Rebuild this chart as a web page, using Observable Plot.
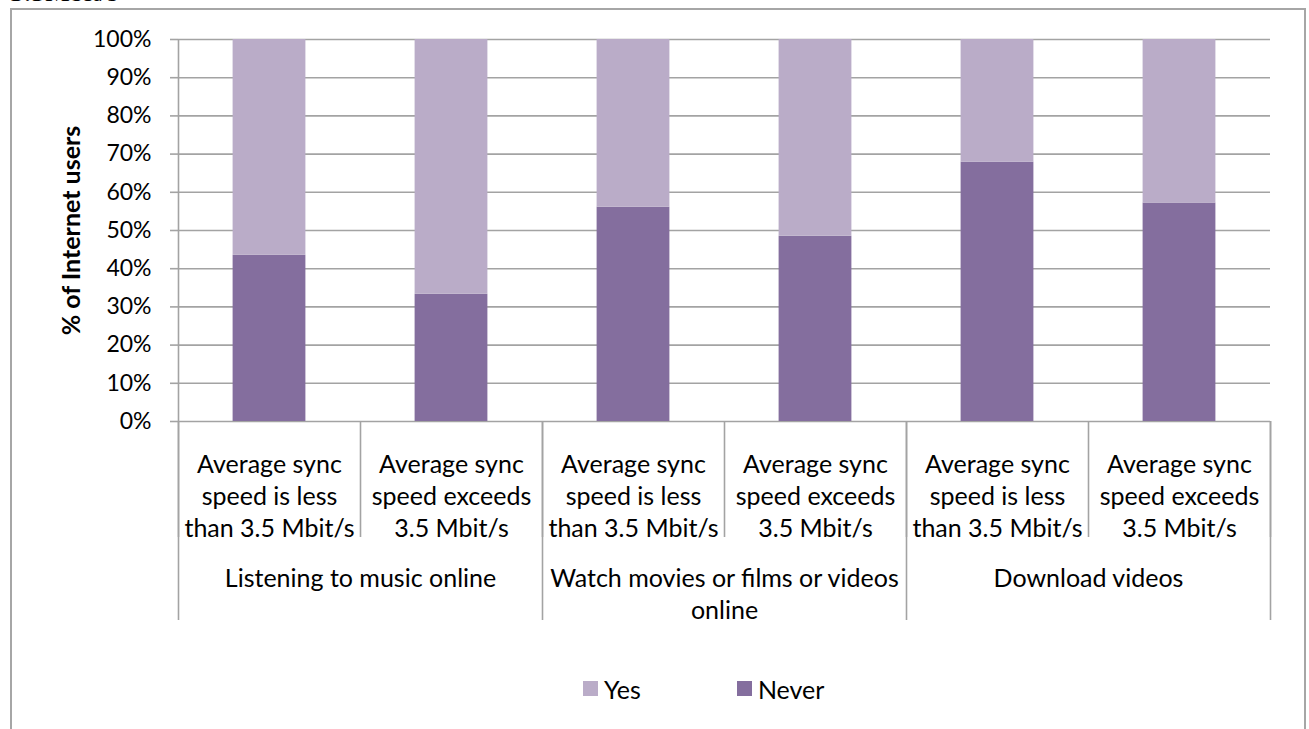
<!DOCTYPE html>
<html>
<head>
<meta charset="utf-8">
<script src="https://cdn.jsdelivr.net/npm/d3@7"></script>
<script src="https://cdn.jsdelivr.net/npm/@observablehq/plot@0.6"></script>
<style>
  html, body { margin: 0; padding: 0; background: #fff; width: 1309px; height: 729px; overflow: hidden; }
  #wrap { position: relative; width: 1309px; height: 729px; }
  #doc { position: absolute; left: 10px; top: -24px; font-family: "Liberation Serif", serif; font-size: 28px; color: #000; }
  #frame { position: absolute; left: 10px; top: 8px; width: 1296px; height: 800px; box-sizing: border-box; border: 2px solid #a6a6a6; }
  #chart { position: absolute; left: 0; top: 0; }
  #legend { position: absolute; left: 583px; top: 672px; }
  #legend .lg-swatch { margin-right: 96px !important; }
  #legend .lg-swatch > svg { margin-right: 6px !important; }
</style>
</head>
<body>
<div id="wrap">
  <div id="doc">3.5Mbit/s</div>
  <div id="frame"></div>
  <div id="chart"></div>
  <div id="legend"></div>
</div>
<script>
// ---- data ----
const categories = [
  "Average sync\nspeed is less\nthan 3.5 Mbit/s",
  "Average sync\nspeed exceeds\n3.5 Mbit/s",
  "Average sync\nspeed is less\nthan 3.5 Mbit/s",
  "Average sync\nspeed exceeds\n3.5 Mbit/s",
  "Average sync\nspeed is less\nthan 3.5 Mbit/s",
  "Average sync\nspeed exceeds\n3.5 Mbit/s"
];
const groups = [
  "Listening to music online",
  "Watch movies or films or videos\nonline",
  "Download videos"
];
const groupStart = [0, 2, 4];
const groupSize = [2, 2, 2];
const seriesNames = ["Yes", "Never"];
const neverPct = [43.5, 33.3, 56.1, 48.5, 67.9, 57.2];
const yesPct = [56.5, 66.7, 43.9, 51.5, 32.1, 42.8];
const yTicks = [0, 10, 20, 30, 40, 50, 60, 70, 80, 90, 100];

// ---- tables built from the arrays ----
const barData = [];
categories.forEach((c, i) => {
  barData.push({i, series: "Never", value: neverPct[i]});
  barData.push({i, series: "Yes", value: yesPct[i]});
});
const catData = categories.map((c, i) => ({i, label: c}));
const groupData = groups.map((g, k) => ({label: g, start: groupStart[k], size: groupSize[k]}));
const innerSeps = d3.range(categories.length + 1);
const outerSeps = [0, ...groupData.map(g => g.start + g.size)];

const gray = "#a3a3a3";
const purpleLight = "#baacc8";
const purpleDark = "#846e9e";
const font = "Lato";

const chart = Plot.plot({
  width: 1309,
  height: 729,
  marginLeft: 178,
  marginRight: 39,
  marginTop: 39,
  marginBottom: 308,
  style: {fontFamily: font, fontSize: "24px", color: "#000", background: "transparent", overflow: "visible"},
  x: {domain: [0, categories.length], axis: null},
  y: {domain: [0, 100], axis: null},
  color: {domain: seriesNames, range: [purpleLight, purpleDark]},
  marks: [
    Plot.gridY(yTicks, {stroke: gray, strokeOpacity: 1, strokeWidth: 1.6}),
    Plot.axisY(yTicks, {
      tickSize: 8, tickPadding: 19, stroke: gray, strokeWidth: 1.6,
      tickFormat: d => d + "%", fontSize: 23, label: null, fill: "#000"
    }),
    Plot.rectY(barData, {
      x1: d => d.i + 0.3,
      x2: d => d.i + 0.7,
      y: "value",
      fill: "series",
      order: ["Never", "Yes"]
    }),
    // y axis line and x-axis separators
    Plot.ruleX([0], {x: d => d, stroke: gray, strokeWidth: 1.6}),
    Plot.ruleX(innerSeps, {x: d => d, y1: 0, y2: 0, insetBottom: -116, stroke: gray, strokeWidth: 1.6}),
    Plot.ruleX(outerSeps, {x: d => d, y1: 0, y2: 0, insetBottom: -199, stroke: gray, strokeWidth: 1.6}),
    // category labels
    Plot.text(catData, {
      x: d => d.i + 0.5, y: 0, text: "label",
      lineAnchor: "top", lineHeight: 32 / 25, dy: 29,
      fontSize: 25, fill: "#000", textAnchor: "middle"
    }),
    Plot.text(groupData, {
      x: d => d.start + d.size / 2, y: 0, text: "label",
      lineAnchor: "top", lineHeight: 32 / 25, dy: 143,
      fontSize: 25, fill: "#000", textAnchor: "middle"
    }),
    // y axis title
    Plot.text(["% of Internet users"], {
      frameAnchor: "left", text: d => d, rotate: -90, dx: -107,
      textAnchor: "middle", lineAnchor: "middle",
      fontSize: 25, fontWeight: "bold", fill: "#000"
    })
  ]
});
document.getElementById("chart").appendChild(chart);

const legend = Plot.legend({
  color: {domain: seriesNames, range: [purpleLight, purpleDark]},
  legend: "swatches",
  swatchSize: 15,
  className: "lg",
  style: {fontFamily: font, fontSize: "25px", color: "#000"}
});
document.getElementById("legend").appendChild(legend);
</script>
</body>
</html>
